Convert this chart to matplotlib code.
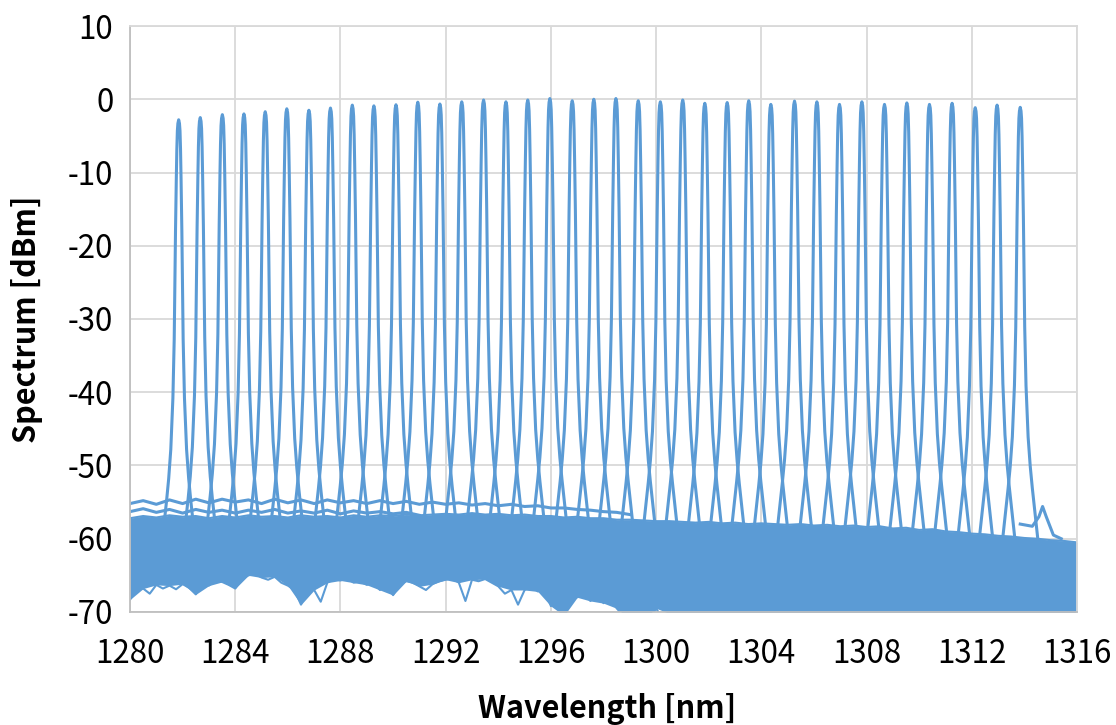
import numpy as np
import matplotlib
matplotlib.use("Agg")
import matplotlib.pyplot as plt

plt.rcParams['font.family'] = ['Noto Sans CJK KR', 'DejaVu Sans']
plt.rcParams['axes.unicode_minus'] = False

# channel peaks
peak_nm = [1281.85, 1282.67, 1283.51, 1284.33, 1285.14, 1285.96, 1286.80, 1287.62,
           1288.45, 1289.27, 1290.11, 1290.94, 1291.78, 1292.61, 1293.44, 1294.29,
           1295.12, 1295.96, 1296.81, 1297.63, 1298.47, 1299.32, 1300.16, 1301.01,
           1301.85, 1302.70, 1303.52, 1304.36, 1305.26, 1306.11, 1306.97, 1307.82,
           1308.68, 1309.53, 1310.39, 1311.25, 1312.13, 1312.96, 1313.84]
peak_dbm = [-2.8, -2.5, -2.1, -2.0, -1.7, -1.3, -1.5, -1.2,
            -0.8, -0.9, -0.75, -0.4, -0.65, -0.35, -0.1, -0.35,
            -0.1, 0.1, -0.2, 0.0, 0.1, -0.2, -0.35, -0.1,
            -0.55, -0.45, -0.2, -0.7, -0.25, -0.35, -0.7, -0.35,
            -0.7, -0.5, -0.7, -0.55, -1.15, -0.8, -1.1]

# shape of one channel (offset from centre in nm, level below the peak in dB)
shape_nm = [-0.70, -0.55, -0.46, -0.38, -0.30, -0.22, -0.17, -0.12, -0.09, -0.07, -0.05, -0.03, 0.0,
            0.03, 0.05, 0.07, 0.09, 0.12, 0.17, 0.22, 0.30, 0.38, 0.46, 0.55, 0.70]
shape_db = [-60, -55, -52, -49, -45, -38, -30, -15, -8, -4, -1.5, -0.5, 0,
            -0.5, -1.5, -4, -8, -15, -30, -38, -45, -49, -52, -55, -60]

# noise floor band: top edge every 0.5 nm from 1280 to 1316
band_top = [-57.2, -56.9, -57.1, -56.8, -57.0, -56.9, -57.2, -56.9, -57.1, -56.8, -57.0, -56.9,
            -57.1, -56.8, -57.0, -56.9, -57.1, -56.8, -57.0, -56.8, -56.9, -56.7, -56.8,
            -56.7, -56.6, -56.7, -56.5, -56.7, -56.6, -56.8, -56.7, -56.9, -56.9, -57.1, -57.0,
            -57.2, -57.2, -57.4, -57.4,
            -57.5, -57.6, -57.6, -57.7, -57.8, -57.7, -57.9, -57.8, -58.0, -57.9, -58.0, -58.1,
            -58.0, -58.2, -58.1, -58.3, -58.2, -58.4, -58.3, -58.6, -58.5, -58.8, -58.7, -59.0,
            -59.1, -59.3, -59.4, -59.6, -59.7, -59.9, -60.0, -60.2, -60.3, -60.5]
# bottom edge every 0.25 nm from 1280 to 1301, below the axis after that
band_low = [-68.3, -67.0, -66.8, -67.5, -66.3, -66.8, -66.4, -66.9, -66.2, -66.7, -67.6, -66.0,
            -66.4, -65.7, -65.9, -66.3, -66.8, -65.5, -65.0, -64.8, -65.3, -65.6, -65.2, -66.0,
            -66.4, -67.0, -69.0, -66.5, -67.0, -68.6, -66.0, -65.5, -65.7, -65.4, -66.0, -65.8,
            -66.3, -66.0, -67.0, -66.4, -67.7, -66.2, -65.8, -66.0, -66.5, -67.0, -66.2, -65.8,
            -65.6, -65.4, -66.0, -68.5, -65.6, -65.8, -65.5, -66.0, -66.5, -67.5, -67.0, -69.0,
            -67.0, -66.5, -67.2, -67.0, -69.2, -68.0, -70.5, -67.5, -68.0, -67.3, -68.5, -67.6,
            -68.8, -68.0, -69.5, -70.5, -71.0, -69.8, -71.0, -71.0, -69.5, -71.0, -70.2, -71.0,
            -71.0]

# two floor traces riding above the band on the short wavelength side
floor_a_nm = [1280.0, 1280.5, 1281.0, 1281.5, 1282.0, 1282.5, 1283.0, 1283.5, 1284.0, 1284.5,
              1285.0, 1285.5, 1286.0, 1286.5, 1287.0, 1287.5, 1288.0, 1288.5, 1289.0, 1289.5,
              1290.0, 1290.5, 1291.0, 1291.5, 1292.0, 1292.5, 1293.0, 1293.5, 1294.0, 1294.5,
              1295.0, 1295.5, 1296.0, 1296.5, 1297.0, 1297.5, 1298.0, 1298.5, 1299.0]
floor_a_db = [-55.2, -54.8, -55.3, -54.7, -55.2, -54.6, -55.1, -54.6, -55.0, -54.7,
              -55.2, -54.6, -55.1, -54.7, -55.2, -54.7, -55.1, -54.8, -55.2, -54.8,
              -55.2, -54.9, -55.3, -55.0, -55.3, -55.1, -55.4, -55.2, -55.5, -55.3,
              -55.6, -55.5, -55.8, -55.8, -56.0, -56.1, -56.3, -56.4, -56.7]
floor_b_nm = [1280.0, 1280.5, 1281.0, 1281.5, 1282.0, 1282.5, 1283.0, 1283.5, 1284.0, 1284.5,
              1285.0, 1285.5, 1286.0, 1286.5, 1287.0, 1287.5, 1288.0, 1288.5, 1289.0, 1289.5,
              1290.0, 1290.5, 1291.0]
floor_b_db = [-56.3, -55.9, -56.4, -56.0, -56.5, -56.0, -56.4, -56.1, -56.5, -56.1,
              -56.4, -56.0, -56.5, -56.2, -56.5, -56.1, -56.6, -56.2, -56.5, -56.3,
              -56.6, -56.4, -56.8]
# small side mode next to the last channel
side_nm = [1313.84, 1314.30, 1314.55, 1314.69, 1314.83, 1315.10, 1315.40]
side_db = [-58.0, -58.3, -57.0, -55.6, -57.0, -59.5, -60.0]

blue = "#5B9BD5"
lw = 2.2

fig = plt.figure(figsize=(11.16, 7.25), dpi=100)
ax = fig.add_axes([0.1165, 0.1559, 0.8486, 0.8082])

top_nm = np.linspace(1280, 1316, len(band_top))
low_nm = list(np.linspace(1280, 1301, len(band_low))) + [1316.0]
low_db = band_low + [-71.0]
low_on_top = np.interp(top_nm, low_nm, low_db)
ax.fill_between(top_nm, low_on_top, band_top, color=blue, lw=0)
ax.plot(low_nm, low_db, color=blue, lw=1.5)
ax.plot(top_nm, band_top, color=blue, lw=1.5)

ax.plot(floor_a_nm, floor_a_db, color=blue, lw=lw)
ax.plot(floor_b_nm, floor_b_db, color=blue, lw=lw)
ax.plot(side_nm, side_db, color=blue, lw=lw)

for c, p in zip(peak_nm, peak_dbm):
    ax.plot(np.add(c, shape_nm), np.add(p, shape_db), color=blue, lw=lw,
            solid_joinstyle="round")

ax.set_xlim(1280, 1316)
ax.set_ylim(-70, 10)
ax.set_xticks(np.arange(1280, 1317, 4))
ax.set_yticks(np.arange(-70, 11, 10))
ax.grid(True, color="#D9D9D9", lw=1.3)
ax.set_axisbelow(True)
for s in ["top", "right"]:
    ax.spines[s].set_color("#D9D9D9")
    ax.spines[s].set_linewidth(1.3)
for s in ["left", "bottom"]:
    ax.spines[s].set_color("#BFBFBF")
    ax.spines[s].set_linewidth(1.3)
ax.tick_params(axis="both", length=0, labelsize=22.5, colors="#000000")
ax.tick_params(axis="x", pad=19)
ax.tick_params(axis="y", pad=12)

ax.set_xlabel("Wavelength [nm]", fontsize=22, fontweight="bold")
ax.set_ylabel("Spectrum [dBm]", fontsize=22, fontweight="bold")
ax.xaxis.label.set_va("center")
ax.yaxis.label.set_va("center")
ax.xaxis.set_label_coords(0.504, -0.165)
ax.yaxis.set_label_coords(-0.109, 0.5)

fig.savefig("out.png", dpi=100)
